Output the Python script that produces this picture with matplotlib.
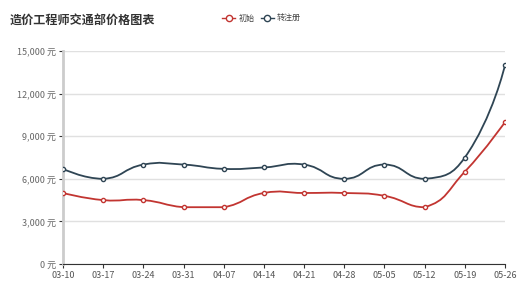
import numpy as np
import matplotlib.pyplot as plt
from matplotlib.path import Path
from matplotlib.patches import PathPatch
from matplotlib.lines import Line2D

plt.rcParams['font.family'] = ['Noto Sans CJK SC', 'DejaVu Sans']

dates = ['03-10', '03-17', '03-24', '03-31', '04-07', '04-14',
         '04-21', '04-28', '05-05', '05-12', '05-19', '05-26']
initial = [5000, 4500, 4500, 4000, 4000, 5000, 5000, 5000, 4800, 4000, 6500, 10000]
transfer = [6700, 6000, 7000, 7000, 6700, 6800, 7000, 6000, 7000, 6000, 7500, 14000]
yticks = [0, 3000, 6000, 9000, 12000, 15000]

RED = '#c23531'
DARK = '#2f4554'


def smooth_path(xs, ys, sx, sy, smooth=0.5):
    # bezier smoothing, control points kept inside the bounding box of the
    # series (worked out in pixel-ish units, mapped back to data)
    px = np.array(xs, float) * sx
    py = np.array(ys, float) * sy
    n = len(px)
    lo = (px.min(), py.min())
    hi = (px.max(), py.max())
    cps = []
    for i in range(n):
        if i == 0 or i == n - 1:
            cps.append(((px[i], py[i]), (px[i], py[i])))
            continue
        vx = (px[i + 1] - px[i - 1]) * smooth
        vy = (py[i + 1] - py[i - 1]) * smooth
        d0 = np.hypot(px[i] - px[i - 1], py[i] - py[i - 1])
        d1 = np.hypot(px[i + 1] - px[i], py[i + 1] - py[i])
        s = d0 + d1
        d0, d1 = d0 / s, d1 / s
        c_in = [px[i] - vx * d0, py[i] - vy * d0]
        c_out = [px[i] + vx * d1, py[i] + vy * d1]
        for c in (c_in, c_out):
            c[0] = min(max(c[0], lo[0]), hi[0])
            c[1] = min(max(c[1], lo[1]), hi[1])
        cps.append((tuple(c_in), tuple(c_out)))
    verts = [(px[0], py[0])]
    codes = [Path.MOVETO]
    for i in range(1, n):
        verts += [cps[i - 1][1], cps[i][0], (px[i], py[i])]
        codes += [Path.CURVE4] * 3
    verts = [(a / sx, b / sy) for a, b in verts]
    return Path(verts, codes)


fig = plt.figure(figsize=(5.31, 2.9), dpi=100)
ax = fig.add_axes([63 / 531, 26 / 290, 442 / 531, 213 / 290])

x = np.arange(len(dates))
sx, sy = 40.2, 213 / 15000
for vals, col in [(initial, RED), (transfer, DARK)]:
    ax.add_patch(PathPatch(smooth_path(x, vals, sx, sy), fill=False,
                           edgecolor=col, lw=1.3, zorder=3))
    ax.plot(x, vals, linestyle='none', marker='o', ms=3, mfc='white',
            mec=col, mew=1, zorder=4)

ax.set_xlim(0, len(dates) - 1)
ax.set_ylim(0, 15000)
ax.set_xticks(x)
ax.set_xticklabels(dates)
ax.set_yticks(yticks)
ax.set_yticklabels([f'{v:,} 元' for v in yticks])
ax.grid(axis='y', color='#e0e0e0', lw=1)
ax.set_axisbelow(True)
for s in ['top', 'right']:
    ax.spines[s].set_visible(False)
ax.spines['left'].set_color('#cccccc')
ax.spines['left'].set_linewidth(2)
ax.spines['bottom'].set_color('#333333')
ax.tick_params(axis='x', colors='#333333', labelcolor='#555555', labelsize=6.5, length=3, pad=2)
ax.tick_params(axis='y', colors='#333333', labelcolor='#666666', labelsize=6.5, length=3, pad=2)

fig.text(10 / 531, 1 - 20 / 290, '造价工程师交通部价格图表', fontsize=8.7,
         fontweight='bold', color='#333333', va='center', ha='left')

handles = [Line2D([], [], color=RED, lw=1, marker='o', ms=4.5, mfc='white', mec=RED),
           Line2D([], [], color=DARK, lw=1, marker='o', ms=4.5, mfc='white', mec=DARK)]
fig.legend(handles, ['初始', '转注册'], loc='center left',
           bbox_to_anchor=(215 / 531, 1 - 18 / 290), ncol=2, frameon=False,
           fontsize=5.8, handlelength=1.6, columnspacing=0.8, handletextpad=0.4,
           labelcolor='#444444')

fig.savefig('out.png', dpi=100)
